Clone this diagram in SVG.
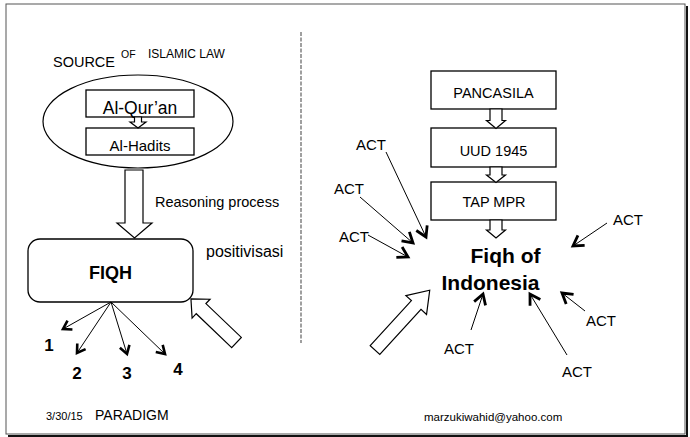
<svg xmlns="http://www.w3.org/2000/svg" width="690" height="437" viewBox="0 0 690 437">
<style>
.t{font-family:"Liberation Sans",Arial,sans-serif;fill:#000}
.b{font-weight:bold}
.box{fill:#fff;stroke:#000;stroke-width:1.3}
.blk{fill:#fff;stroke:#000;stroke-width:1.2;stroke-linejoin:miter}
.ln{stroke:#000;stroke-width:1;fill:none}
</style>
<defs>
<marker id="v" markerUnits="userSpaceOnUse" markerWidth="16" markerHeight="16" viewBox="-12 -8 16 16" refX="0" refY="0" orient="auto">
<path d="M-8,-5 L0,0 L-8,5" fill="none" stroke="#000" stroke-width="2.6" stroke-linejoin="miter"/>
</marker>
<marker id="v2" markerUnits="userSpaceOnUse" markerWidth="18" markerHeight="18" viewBox="-13 -9 18 18" refX="0" refY="0" orient="auto">
<path d="M-10,-6 L0,0 L-10,6" fill="none" stroke="#000" stroke-width="2.8" stroke-linejoin="miter"/>
</marker>
</defs>
<rect x="0" y="0" width="690" height="437" fill="#fff"/>
<rect x="6" y="4" width="679" height="430" fill="none" stroke="#555" stroke-width="1"/>
<polyline points="687,6 687,436 8,436" fill="none" stroke="#111" stroke-width="2"/>
<line x1="301" y1="32" x2="301" y2="343" stroke="#808080" stroke-width="1.5" stroke-dasharray="4 1.5"/>

<g id="title">
<text class="t" x="53" y="67" font-size="15.5" textLength="62" lengthAdjust="spacingAndGlyphs">SOURCE</text>
<text class="t" x="121" y="58" font-size="10.5">OF</text>
<text class="t" x="148" y="58" font-size="12">ISLAMIC LAW</text>
</g>

<g id="source">
<ellipse cx="138" cy="121.5" rx="95" ry="46.5" fill="#fff" stroke="#000" stroke-width="1.2"/>
</g>
<g id="alquran">
<rect class="box" x="86" y="90" width="108" height="27"/>
<text class="t" x="140" y="113.5" font-size="17.5" text-anchor="middle">Al-Qur’an</text>
</g>
<g id="alhadits">
<rect class="box" x="86" y="128" width="108" height="27"/>
<text class="t" x="140" y="150.5" font-size="15" text-anchor="middle">Al-Hadits</text>
</g>

<g id="fiqh">
<rect class="box" x="28" y="239" width="165" height="63" rx="12"/>
<text class="t b" x="110.5" y="279" font-size="18" text-anchor="middle">FIQH</text>
</g>

<g id="labels-left">
<text class="t" x="155" y="207" font-size="14.5">Reasoning process</text>
<text class="t" x="206" y="257" font-size="16">positivisasi</text>
<text class="t b" x="49" y="351" font-size="17" text-anchor="middle">1</text>
<text class="t b" x="77" y="379" font-size="17" text-anchor="middle">2</text>
<text class="t b" x="127" y="379" font-size="17" text-anchor="middle">3</text>
<text class="t b" x="178" y="375" font-size="17" text-anchor="middle">4</text>
</g>

<g id="pancasila">
<rect class="box" x="431" y="71" width="125" height="38"/>
<text class="t" x="493.5" y="98" font-size="14.5" text-anchor="middle">PANCASILA</text>
</g>
<g id="uud1945">
<rect class="box" x="431" y="128" width="125" height="39"/>
<text class="t" x="493.5" y="156" font-size="14.5" text-anchor="middle">UUD 1945</text>
</g>
<g id="tapmpr">
<rect class="box" x="431" y="182" width="125" height="38"/>
<text class="t" x="494" y="207" font-size="14.5" text-anchor="middle">TAP MPR</text>
</g>
<g id="fiqh-indonesia">
<text class="t b" x="505.5" y="263" font-size="21" text-anchor="middle">Fiqh of</text>
<text class="t b" x="490.5" y="290" font-size="21" text-anchor="middle">Indonesia</text>
</g>

<g id="act-labels">
<text class="t" x="356" y="150" font-size="15">ACT</text>
<text class="t" x="334" y="194" font-size="15">ACT</text>
<text class="t" x="339" y="242" font-size="15">ACT</text>
<text class="t" x="613" y="225" font-size="15">ACT</text>
<text class="t" x="586" y="326" font-size="15">ACT</text>
<text class="t" x="444" y="354" font-size="15">ACT</text>
<text class="t" x="562" y="377" font-size="15">ACT</text>
</g>

<g id="connectors">
<polygon class="blk" points="134.5,117 141.5,117 141.5,122 146,122 138,128 130,122 134.5,122"/>
<polygon class="blk" points="125,170 143,170 143,223 152,223 134.5,238 117,223 125,223"/>
<polygon class="blk" transform="translate(236.5,342.5) rotate(-136.3)" points="0,-7 49,-7 49,-13 63,0 49,13 49,7 0,7"/>
<line class="ln" x1="111" y1="302" x2="63" y2="329" marker-end="url(#v)"/>
<line class="ln" x1="111" y1="302" x2="77" y2="353" marker-end="url(#v)"/>
<line class="ln" x1="111" y1="302" x2="127" y2="354" marker-end="url(#v)"/>
<line class="ln" x1="111" y1="302" x2="165" y2="354" marker-end="url(#v)"/>

<polygon class="blk" points="490,109 502,109 502,120.5 505.5,120.5 496,128.5 486.5,120.5 490,120.5"/>
<polygon class="blk" points="490,167 502,167 502,175 505.5,175 496,182.5 486.5,175 490,175"/>
<polygon class="blk" points="490,220 502,220 502,230 505.5,230 496,238 486.5,230 490,230"/>
<polygon class="blk" transform="translate(375,350) rotate(-47.5)" points="0,-6.5 61,-6.5 61,-14 81,0 61,14 61,6.5 0,6.5"/>

<line class="ln" x1="386" y1="152" x2="426" y2="237" marker-end="url(#v2)"/>
<line class="ln" x1="360" y1="197" x2="413" y2="243" marker-end="url(#v2)"/>
<line class="ln" x1="368" y1="235" x2="408" y2="257" marker-end="url(#v2)"/>
<line class="ln" x1="607" y1="223" x2="573" y2="246" marker-end="url(#v2)"/>
<line class="ln" x1="585" y1="311" x2="562" y2="293" marker-end="url(#v2)"/>
<line class="ln" x1="471" y1="330" x2="483" y2="294" marker-end="url(#v2)"/>
<line class="ln" x1="567" y1="355" x2="530" y2="294" marker-end="url(#v2)"/>
</g>

<g id="footer">
<text class="t" x="46" y="420" font-size="11">3/30/15</text>
<text class="t" x="95" y="420" font-size="14">PARADIGM</text>
<text class="t" x="424" y="421" font-size="11.5">marzukiwahid@yahoo.com</text>
</g>
</svg>
